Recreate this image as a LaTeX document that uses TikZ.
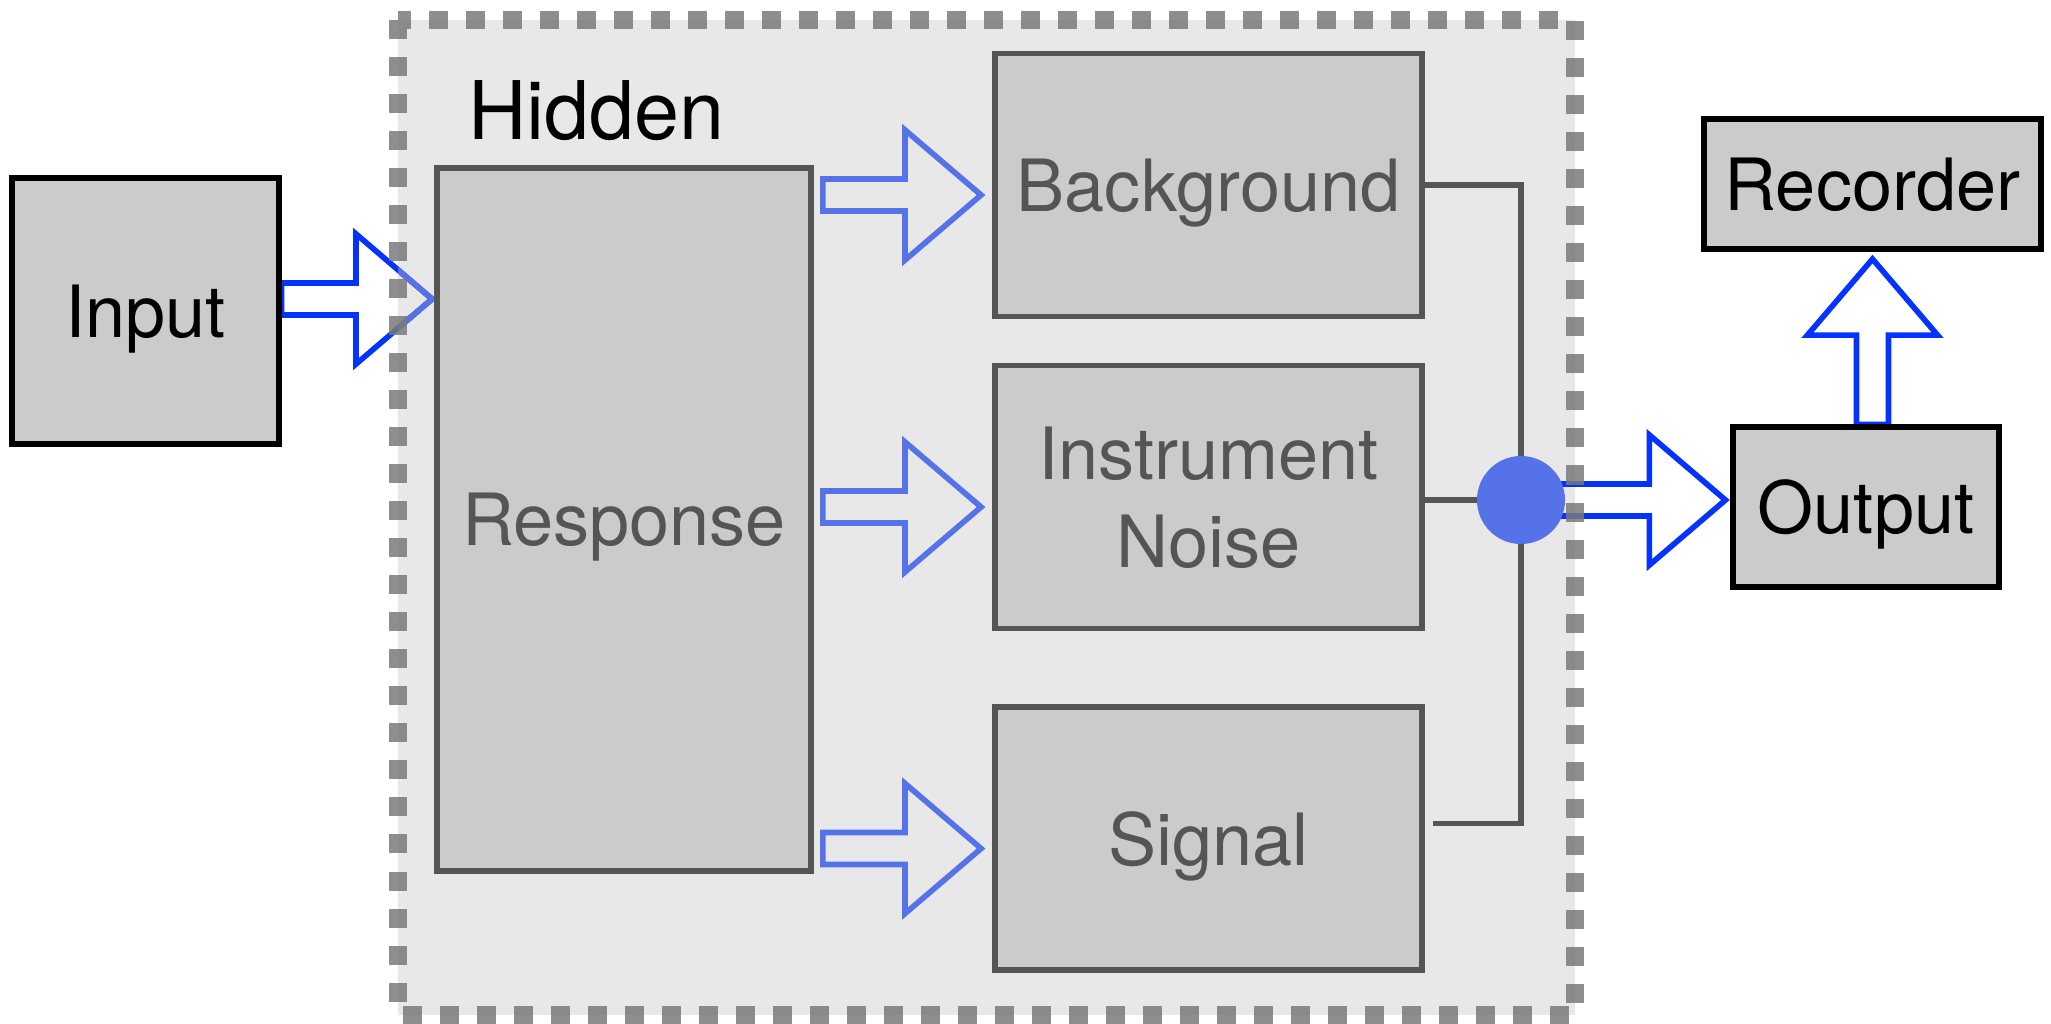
\documentclass[tikz,border=0pt]{standalone}
\usepackage{fontspec}
\setmainfont{TeX Gyre Heros}
\usepackage{xcolor}
\usepackage{tikz}
\usetikzlibrary{calc}
\definecolor{ink}{HTML}{000000}
\definecolor{ink2}{HTML}{555555}
\definecolor{cbox}{HTML}{CBCBCB}
\definecolor{cregion}{HTML}{E8E8E8}
\definecolor{cdash}{HTML}{7A7A7A}
\definecolor{cblue}{HTML}{0433FF}
\definecolor{clight}{HTML}{5672E8}
\pgfdeclarelayer{back}
\pgfsetlayers{back,main}
\newcommand{\boxfont}{\fontsize{20.5}{25}\selectfont}
\newcommand{\hiddenfont}{\fontsize{23}{28}\selectfont}
% hollow block arrow, tail at #2, tip at #3
\newcommand{\fatarrow}[3][]{%
  \path (#2) coordinate (fa-s) (#3) coordinate (fa-t);
  \path ($(fa-t)!0.76cm!(fa-s)$) coordinate (fa-h);
  \draw[line width=1.6pt, #1]
    ($(fa-s)!0.16cm!90:(fa-t)$) -- ($(fa-h)!0.16cm!90:(fa-t)$)
    -- ($(fa-h)!0.65cm!90:(fa-t)$) -- (fa-t)
    -- ($(fa-h)!0.65cm!-90:(fa-t)$) -- ($(fa-h)!0.16cm!-90:(fa-t)$)
    -- ($(fa-s)!0.16cm!-90:(fa-t)$) -- cycle;
}

\begin{document}
\begin{tikzpicture}[x=0.01cm, y=-0.01cm,
    outerbox/.style={draw=ink, line width=1.7pt, fill=cbox, text=ink, font=\boxfont, inner sep=0pt, text depth=0pt},
    innerbox/.style={draw=ink2, line width=1.6pt, fill=cbox, text=ink2, font=\boxfont, inner sep=0pt, text depth=0pt, align=center},
    wire/.style={draw=ink2, line width=1.5pt},
  ]
  \useasboundingbox (0,0) rectangle (2051,1023);
  % hidden region
  \begin{pgfonlayer}{back}
    \fill[cregion] (398,20) rectangle (1575,1015);
  \end{pgfonlayer}
  \node[anchor=base west, font=\hiddenfont, text=ink] (hid) at (456,139) {Hidden};

  % boxes
  \node[outerbox, minimum width=2.66cm, minimum height=2.65cm] (inp) at (145.5,311) {Input};
  \node[innerbox, minimum width=3.74cm, minimum height=7.03cm] (resp) at (624,519.5) {Response};
  \foreach \nm/\y/\txt in {bg/185/Background, noise/497/Instrument\\Noise, sig/838.5/Signal}{
    \node[innerbox, minimum width=4.27cm, minimum height=2.63cm] (\nm) at (1208.5,\y) {\txt};
  }
  \node[outerbox, minimum width=3.36cm, minimum height=1.29cm] (rec) at (1872.5,184) {Recorder};
  \node[outerbox, minimum width=2.65cm, minimum height=1.59cm] (out) at (1866,507) {Output};
  \coordinate (jn) at (1521,500);

  % block arrows, under the boxes
  \begin{pgfonlayer}{back}
    \fatarrow[cblue]{$(inp.east)+(0,-12)$}{$(resp.west |- inp.east)+(-2,-12)$}
    \begin{scope}
      \clip (398,20) rectangle (1575,1015);
      \fatarrow[clight]{$(inp.east)+(0,-12)$}{$(resp.west |- inp.east)+(-2,-12)$}
    \end{scope}
    \foreach \nm in {bg,noise,sig}{
      \fatarrow[clight]{$(resp.east |- \nm.west)+(9,10)$}{$(\nm.west)+(-11,10)$}
    }
    \fatarrow[cblue]{jn}{$(out.west |- jn)+(-5,0)$}
    \fatarrow[cblue]{rec.south |- out.north}{$(rec.south)+(0,7.5)$}
  \end{pgfonlayer}

  % summing bus
  \draw[wire] (bg.east) -- (bg.east -| jn) -- (jn);
  \draw[wire] (noise.east |- jn) -- (jn);
  \draw[wire] ($(sig.east)+(8,-15)$) -| (jn);
  \node[circle, fill=clight, inner sep=0pt, minimum size=0.88cm] (dot) at (jn) {};

  % dashed frame on top
  \draw[cdash, opacity=0.85, line width=0.18cm, dash pattern=on 0.19cm off 0.18cm] (398,20) rectangle (1575,1015);
\end{tikzpicture}
\end{document}
